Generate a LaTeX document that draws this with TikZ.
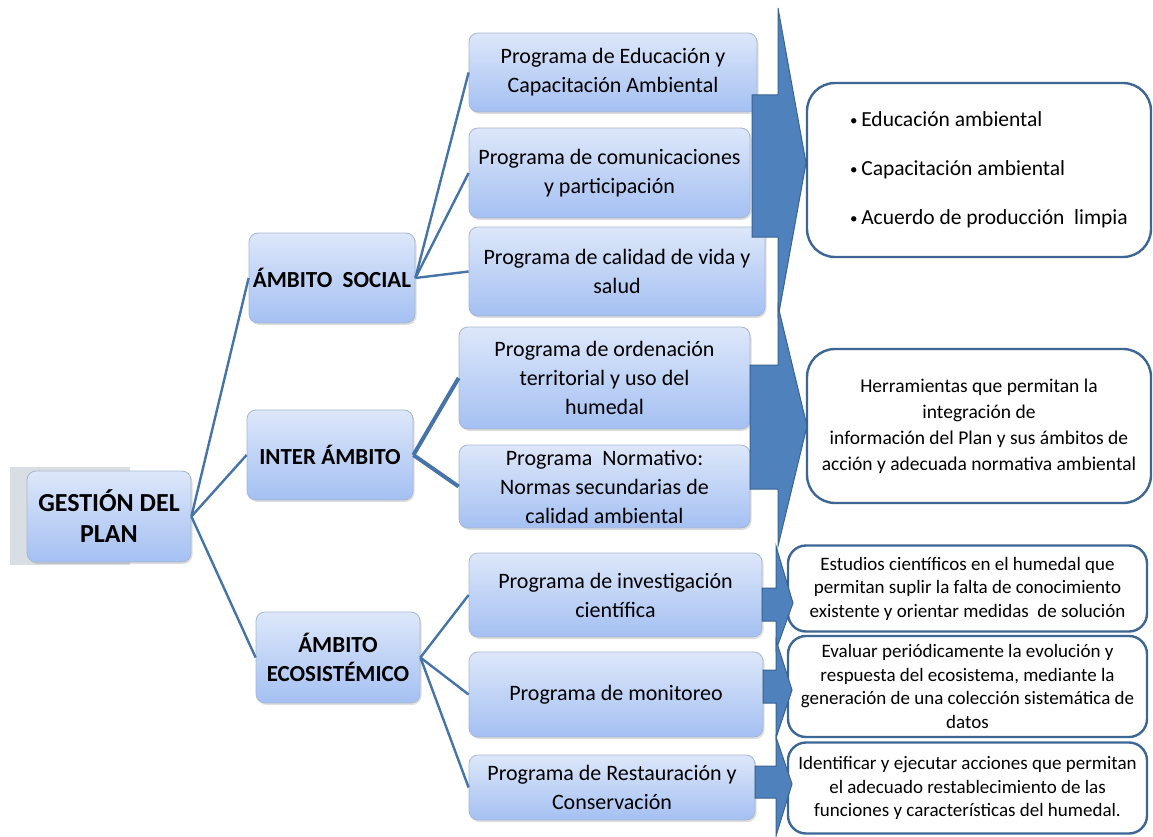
\documentclass[tikz,border=0pt]{standalone}
\usepackage{fontspec}
\setmainfont{Carlito}
\usetikzlibrary{shadows}

\definecolor{boxtop}{HTML}{DDE7FA}
\definecolor{boxbot}{HTML}{A4C0F2}
\definecolor{boxline}{HTML}{A8B7CE}
\definecolor{linkblue}{HTML}{4673A8}
\definecolor{arrowfill}{HTML}{4F81BD}
\definecolor{arrowline}{HTML}{3A6391}
\definecolor{resline}{HTML}{3E6695}
\definecolor{panelgrey}{HTML}{D9DEE5}

\tikzset{
  bluebox/.style={draw=boxline, line width=0.8pt, rounded corners=9pt,
    top color=boxtop, bottom color=boxbot, inner sep=0pt, align=center,
    drop shadow={opacity=0.25, shadow xshift=1.5pt, shadow yshift=-2pt}},
  ambito/.style={bluebox, font=\fontsize{23}{29}\selectfont\bfseries},
  prog/.style={bluebox, font=\fontsize{22}{29}\selectfont},
  resbox/.style={draw=resline, line width=2.4pt, fill=white,
    rounded corners=#1, inner sep=0pt, align=center},
  resbox/.default=18pt,
  conn/.style={draw=linkblue, line width=2.4pt},
  bigarrow/.style={fill=arrowfill, draw=arrowline, line width=1pt},
}

% small bullet of the first result box
\newcommand{\smallbul}{\hspace*{20pt}\raisebox{1pt}{\fontsize{15}{15}\selectfont\textbullet}\,}

% shaft x, head x, tip x, shaft top, shaft bottom, head top, head bottom, tip y
\newcommand{\bigarr}[8]{%
  \draw[bigarrow] (#1,#4) -- (#2,#4) -- (#2,#6) -- (#3,#8)
    -- (#2,#7) -- (#2,#5) -- (#1,#5) -- cycle;}

\begin{document}
\begin{tikzpicture}[x=1pt,y=-1pt]

    \useasboundingbox (0,0) rectangle (1153,837);

    % grey panel behind the root
    \fill[panelgrey] (10,467) rectangle (130,565);

    % root and the three ambitos
    \node[ambito, font=\fontsize{26}{31}\selectfont\bfseries,
        minimum width=164pt, minimum height=91pt] (gestion) at (109,516.5)
        {GESTIÓN DEL\\PLAN};
    \node[ambito, minimum width=166pt, minimum height=90pt] (social) at (332,278)
        {ÁMBITO\ \ SOCIAL};
    \node[ambito, minimum width=166pt, minimum height=90pt] (inter) at (330,455)
        {INTER ÁMBITO};
    \node[ambito, minimum width=164pt, minimum height=91pt] (eco) at (338,657.5)
        {ÁMBITO\\ECOSISTÉMICO};

    % programas
    \node[prog, minimum width=288pt, minimum height=79pt] (educ) at (613,72.5)
        {Programa de Educación y\\Capacitación Ambiental};
    \node[prog, minimum width=281pt, minimum height=90pt] (comun) at (609.5,173)
        {Programa de comunicaciones\\y participación};
    \node[prog, minimum width=296pt, minimum height=89pt] (calidad) at (617,271.5)
        {Programa de calidad de vida y\\salud};
    \node[prog, minimum width=291pt, minimum height=102pt] (orden) at (604.5,378)
        {Programa de ordenación\\territorial y uso del\\humedal};
    \node[prog, minimum width=291pt, minimum height=83pt] (norma) at (604.5,486.5)
        {Programa\ \ Normativo:\\Normas secundarias de\\calidad ambiental};
    \node[prog, minimum width=293pt, minimum height=84pt] (invest) at (615.5,595)
        {Programa de investigación\\científica};
    \node[prog, minimum width=294pt, minimum height=85pt] (monit) at (616,694.5)
        {Programa de monitoreo};
    \node[prog, minimum width=286pt, minimum height=65pt] (restaur) at (612,787.5)
        {Programa de Restauración y\\Conservación};

    % connectors
    \draw[conn] (gestion.east) -- (social.west);
    \draw[conn] (gestion.east) -- (inter.west);
    \draw[conn] (gestion.east) -- (eco.west);
    \draw[conn] (social.east) -- (educ.west);
    \draw[conn] (social.east) -- (comun.west);
    \draw[conn] (social.east) -- (calidad.west);
    \draw[conn, line width=4pt] (inter.east) -- (orden.west);
    \draw[conn, line width=4pt] (inter.east) -- (norma.west);
    \draw[conn] (eco.east) -- (invest.west);
    \draw[conn] (eco.east) -- (monit.west);
    \draw[conn] (eco.east) -- (restaur.west);

    % resultados
    \node[resbox=28pt, minimum width=344pt, minimum height=174pt,
        align=left, font=\fontsize{21.5}{49}\selectfont] (resSocial) at (979,170)
        {\smallbul Educación ambiental\\
         \smallbul Capacitación ambiental\\
         \smallbul Acuerdo de producción\ \ limpia};
    \node[resbox=28pt, minimum width=344pt, minimum height=154pt,
        font=\fontsize{19.5}{26}\selectfont] (resInter) at (979,426)
        {Herramientas que permitan la\\integración de\\
         información del Plan y sus ámbitos de\\
         acción y adecuada normativa ambiental};
    \node[resbox, minimum width=359pt, minimum height=86pt,
        font=\fontsize{19}{23.5}\selectfont] (resInvest) at (967.5,588.5)
        {Estudios científicos en el humedal que\\
         permitan suplir la falta de conocimiento\\
         existente y orientar medidas\ \ de solución};
    \node[resbox, minimum width=359pt, minimum height=101pt,
        font=\fontsize{19}{23.5}\selectfont] (resMonit) at (967.5,686.5)
        {Evaluar periódicamente la evolución y\\
         respuesta del ecosistema, mediante la\\
         generación de una colección sistemática de\\datos};
    \node[resbox, minimum width=359pt, minimum height=91pt,
        font=\fontsize{19}{23.5}\selectfont] (resRestaur) at (967.5,788)
        {Identificar y ejecutar acciones que permitan\\
         el adecuado restablecimiento de las\\
         funciones y características del humedal.};

    % block arrows
    \bigarr{752}{778}{806}{95}{237}{8}{318}{163}
    \bigarr{750}{778}{807}{365}{489}{306}{546}{426}
    \bigarr{762}{776}{793}{588}{621}{546}{650}{603}
    \bigarr{763}{776}{792}{670}{703}{640}{738}{690}
    \bigarr{755}{776}{792}{766}{798}{737}{836}{784}

\end{tikzpicture}
\end{document}
